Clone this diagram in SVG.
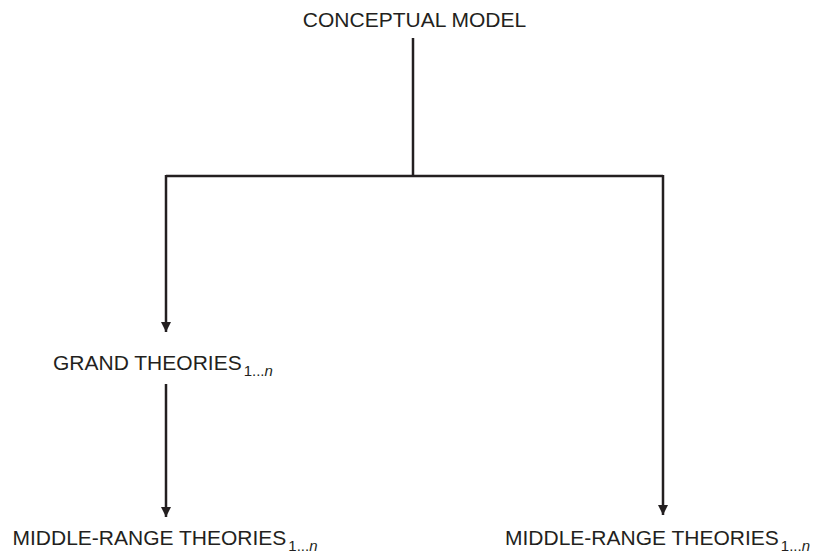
<svg xmlns="http://www.w3.org/2000/svg" width="815" height="556" viewBox="0 0 815 556">
<style>
text{font-family:"Liberation Sans",Arial,sans-serif;font-size:21px;fill:#231f20}
.sub{font-size:15px}
.conn{stroke:#231f20;stroke-width:2.5;fill:none}
</style>
<defs>
<marker id="ah" markerWidth="10" markerHeight="10" refX="10" refY="5" orient="auto" markerUnits="userSpaceOnUse">
<path d="M0,0 L10,5 L0,10 Z" fill="#231f20"/>
</marker>
</defs>
<rect width="815" height="556" fill="#fff"/>
<g id="connectors">
<path class="conn" d="M413,38 V176"/>
<path class="conn" d="M166,176 H663"/>
<path class="conn" d="M166,175 V332" marker-end="url(#ah)"/>
<path class="conn" d="M166,384 V517" marker-end="url(#ah)"/>
<path class="conn" d="M663,175 V515" marker-end="url(#ah)"/>
</g>
<g id="conceptual-model"><text x="414.5" y="27" text-anchor="middle">CONCEPTUAL MODEL</text></g>
<g id="grand-theories"><text x="53" y="370">GRAND THEORIES<tspan class="sub" dx="2" dy="6">1...<tspan font-style="italic">n</tspan></tspan></text></g>
<g id="middle-range-left"><text x="12.5" y="545">MIDDLE-RANGE THEORIES<tspan class="sub" dx="2" dy="6">1...<tspan font-style="italic">n</tspan></tspan></text></g>
<g id="middle-range-right"><text x="505" y="545">MIDDLE-RANGE THEORIES<tspan class="sub" dx="2" dy="6">1...<tspan font-style="italic">n</tspan></tspan></text></g>
</svg>
